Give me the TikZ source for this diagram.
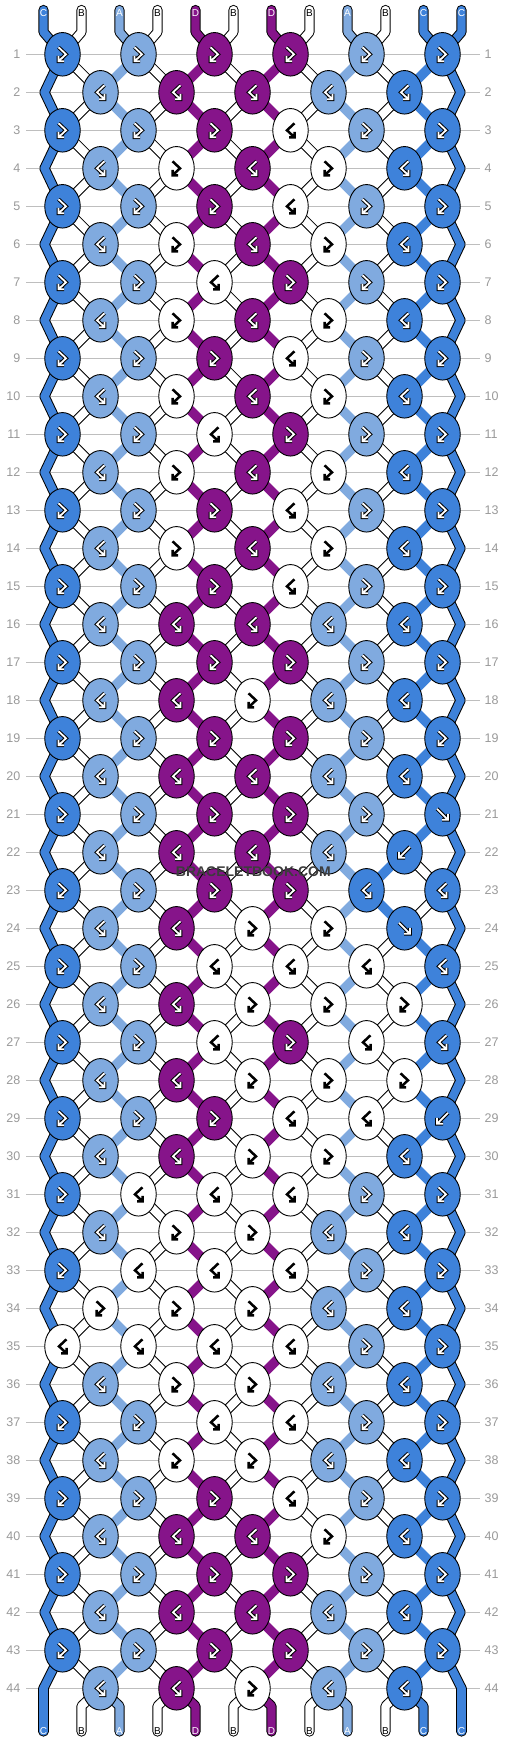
\documentclass[tikz,border=0pt]{standalone}
\usepackage{fontspec}
\setmainfont{Liberation Sans}
\usetikzlibrary{shapes.geometric}
\definecolor{cC}{HTML}{3E82DA}
\definecolor{cA}{HTML}{80AADF}
\definecolor{cD}{HTML}{86148A}
\definecolor{cW}{HTML}{FFFFFF}
\definecolor{lblgray}{HTML}{9A9A9A}
\definecolor{gridgray}{HTML}{BEBEBE}
\definecolor{wmark}{HTML}{3C3C3C}
\def\colW{cW}
\newcommand\getcol[2]{%
  \def\swp{0}%
  \ifnum#1=22 \def\swp{1}\fi
  \ifnum#1=23 \def\swp{1}\fi
  \edef\thecol{\ifcase#2 cC\or cW\or cA\or cW\or cD\or cW\or cD\or cW\or cA\or \ifnum\swp=1 cC\else cW\fi\or \ifnum\swp=1 cW\else cC\fi\or cC\fi}%
}
\begin{document}
\begin{tikzpicture}[x=1pt,y=-1pt,
  knot/.style={ellipse, draw=black, line width=0.9, minimum width=35.5, minimum height=43.5, inner sep=0pt},
  bandout/.style={line width=10.2, draw=black, line cap=round, line join=round},
  bandin/.style={line width=8.2, line cap=round, line join=round},
  bandfull/.style={line width=9.6, line cap=round},
  gridline/.style={draw=gridgray, line width=1},
  rowlbl/.style={text=lblgray, font=\fontsize{12.5}{13}\selectfont, inner sep=0pt},
  strlbl/.style={font=\fontsize{10}{10}\selectfont, inner sep=0pt},
  wmlbl/.style={text=wmark, font=\bfseries\fontsize{14}{14}\selectfont, inner sep=0pt},
  gout/.style={draw=black, line width=3.8},
  gin/.style={draw=white, line width=1.8},
  pics/gF/.style={code={
    \draw[gout] (-4,-7) -- (3.5,0) -- (-4,7) (-4,1.5) -- (-4,7) -- (1.5,7);
    \draw[gin] (-4,-7) -- (3.5,0) -- (-4,7) (-4,1.5) -- (-4,7) -- (1.5,7);}},
  pics/gB/.style={code={
    \draw[gout] (4,-7) -- (-3.5,0) -- (4,7) (4,1.5) -- (4,7) -- (-1.5,7);
    \draw[gin] (4,-7) -- (-3.5,0) -- (4,7) (4,1.5) -- (4,7) -- (-1.5,7);}},
  pics/gf/.style={code={
    \draw[gout] (-5.5,-5.5) -- (5.5,5.5) (5.5,-0.5) -- (5.5,5.5) -- (-0.5,5.5);
    \draw[gin] (-5.5,-5.5) -- (5.5,5.5) (5.5,-0.5) -- (5.5,5.5) -- (-0.5,5.5);}},
  pics/gb/.style={code={
    \draw[gout] (5.5,-5.5) -- (-5.5,5.5) (-5.5,-0.5) -- (-5.5,5.5) -- (0.5,5.5);
    \draw[gin] (5.5,-5.5) -- (-5.5,5.5) (-5.5,-0.5) -- (-5.5,5.5) -- (0.5,5.5);}},
]
\fill[white] (0,0) rectangle (506,1744);
\useasboundingbox (0,0) rectangle (506,1744);

% grid lines and row numbers
\foreach \ro in {1,...,44}{
  \pgfmathsetmacro\yy{54.3+38*(\ro-1)}
  \draw[gridline] (26,\yy) -- (480,\yy);
  \node[rowlbl, anchor=east] (ll-\ro) at (20.5,\yy) {\ro};
  \node[rowlbl, anchor=west] (rl-\ro) at (484.5,\yy) {\ro};
}

% string position coordinates per row
\foreach \ro in {1,...,44}{
  \foreach \ps in {0,...,11}{
    \pgfmathsetmacro\yy{54.3+38*(\ro-1)}
    \pgfmathsetmacro\xx{isodd(\ro) ? 62.5+76*floor(\ps/2) : (\ps==0 ? 44.5 : (\ps==11 ? 460.5 : 100.5+76*floor((\ps-1)/2)))}
    \coordinate (s-\ro-\ps) at (\xx,\yy);
  }
}
\coordinate (s-44-0) at (43.5,1688.3);
\coordinate (s-44-11) at (461.5,1688.3);
\foreach \ps in {0,...,11}{
  \pgfmathsetmacro\xx{43.5+38*\ps}
  \coordinate (te-\ps) at (\xx,10);
  \coordinate (tb-\ps) at (\xx,32);
  \coordinate (bb-\ps) at (\xx,1706);
  \coordinate (be-\ps) at (\xx,1731.5);
}

% pass 1: outlines
\foreach \ps in {0,...,11}{
  \draw[bandout] (te-\ps) -- (tb-\ps) -- (s-1-\ps);
  \ifnum\ps=0 \draw[bandout] (s-44-\ps) -- (be-\ps);
  \else\ifnum\ps=11 \draw[bandout] (s-44-\ps) -- (be-\ps);
  \else \draw[bandout] (s-44-\ps) -- (bb-\ps) -- (be-\ps);\fi\fi
}
\foreach \ro in {1,...,43}{
  \pgfmathtruncatemacro\rn{\ro+1}
  \foreach \ps in {0,...,11}{
    \getcol{\ro}{\ps}%
    \def\doout{0}%
    \ifx\thecol\colW\def\doout{1}\fi
    \ifnum\ps=0 \def\doout{1}\fi
    \ifnum\ps=11 \def\doout{1}\fi
    \ifnum\doout=1 \draw[bandout] (s-\ro-\ps) -- (s-\rn-\ps);\fi
  }
}

% pass 2: fills
\foreach \ps/\cl in {0/cC,1/cW,2/cA,3/cW,4/cD,5/cW,6/cD,7/cW,8/cA,9/cW,10/cC,11/cC}{
  \draw[bandin, draw=\cl] (te-\ps) -- (tb-\ps) -- (s-1-\ps);
  \ifnum\ps=0 \draw[bandin, draw=\cl] (s-44-\ps) -- (be-\ps);
  \else\ifnum\ps=11 \draw[bandin, draw=\cl] (s-44-\ps) -- (be-\ps);
  \else \draw[bandin, draw=\cl] (s-44-\ps) -- (bb-\ps) -- (be-\ps);\fi\fi
}
\foreach \ro in {1,...,43}{
  \pgfmathtruncatemacro\rn{\ro+1}
  \foreach \ps in {0,...,11}{
    \getcol{\ro}{\ps}%
    \def\doout{0}%
    \ifx\thecol\colW\def\doout{1}\fi
    \ifnum\ps=0 \def\doout{1}\fi
    \ifnum\ps=11 \def\doout{1}\fi
    \ifnum\doout=1 \draw[bandin, draw=\thecol] (s-\ro-\ps) -- (s-\rn-\ps);%
    \else \draw[bandfull, draw=\thecol] (s-\ro-\ps) -- (s-\rn-\ps);\fi
  }
}

% knots
\foreach \ro/\lst in {
1/{cC/gF,cA/gF,cD/gF,cD/gF,cA/gF,cC/gF},
2/{cA/gB,cD/gB,cD/gB,cA/gB,cC/gB},
3/{cC/gF,cA/gF,cD/gF,cW/gB,cA/gF,cC/gF},
4/{cA/gB,cW/gF,cD/gB,cW/gF,cC/gB},
5/{cC/gF,cA/gF,cD/gF,cW/gB,cA/gF,cC/gF},
6/{cA/gB,cW/gF,cD/gB,cW/gF,cC/gB},
7/{cC/gF,cA/gF,cW/gB,cD/gF,cA/gF,cC/gF},
8/{cA/gB,cW/gF,cD/gB,cW/gF,cC/gB},
9/{cC/gF,cA/gF,cD/gF,cW/gB,cA/gF,cC/gF},
10/{cA/gB,cW/gF,cD/gB,cW/gF,cC/gB},
11/{cC/gF,cA/gF,cW/gB,cD/gF,cA/gF,cC/gF},
12/{cA/gB,cW/gF,cD/gB,cW/gF,cC/gB},
13/{cC/gF,cA/gF,cD/gF,cW/gB,cA/gF,cC/gF},
14/{cA/gB,cW/gF,cD/gB,cW/gF,cC/gB},
15/{cC/gF,cA/gF,cD/gF,cW/gB,cA/gF,cC/gF},
16/{cA/gB,cD/gB,cD/gB,cA/gB,cC/gB},
17/{cC/gF,cA/gF,cD/gF,cD/gF,cA/gF,cC/gF},
18/{cA/gB,cD/gB,cW/gF,cA/gB,cC/gB},
19/{cC/gF,cA/gF,cD/gF,cD/gF,cA/gF,cC/gF},
20/{cA/gB,cD/gB,cD/gB,cA/gB,cC/gB},
21/{cC/gF,cA/gF,cD/gF,cD/gF,cA/gF,cC/gf},
22/{cA/gB,cD/gB,cD/gB,cA/gB,cC/gb},
23/{cC/gF,cA/gF,cD/gF,cD/gF,cC/gB,cC/gB},
24/{cA/gB,cD/gB,cW/gF,cW/gF,cC/gf},
25/{cC/gF,cA/gF,cW/gB,cW/gB,cW/gB,cC/gB},
26/{cA/gB,cD/gB,cW/gF,cW/gF,cW/gF},
27/{cC/gF,cA/gF,cW/gB,cD/gF,cW/gB,cC/gB},
28/{cA/gB,cD/gB,cW/gF,cW/gF,cW/gF},
29/{cC/gF,cA/gF,cD/gF,cW/gB,cW/gB,cC/gb},
30/{cA/gB,cD/gB,cW/gF,cW/gF,cC/gB},
31/{cC/gF,cW/gB,cW/gB,cW/gB,cA/gF,cC/gF},
32/{cA/gB,cW/gF,cW/gF,cA/gB,cC/gB},
33/{cC/gF,cW/gB,cW/gB,cW/gB,cA/gF,cC/gF},
34/{cW/gF,cW/gF,cW/gF,cA/gB,cC/gB},
35/{cW/gB,cW/gB,cW/gB,cW/gB,cA/gF,cC/gF},
36/{cA/gB,cW/gF,cW/gF,cA/gB,cC/gB},
37/{cC/gF,cA/gF,cW/gB,cW/gB,cA/gF,cC/gF},
38/{cA/gB,cW/gF,cW/gF,cA/gB,cC/gB},
39/{cC/gF,cA/gF,cD/gF,cW/gB,cA/gF,cC/gF},
40/{cA/gB,cD/gB,cD/gB,cW/gF,cC/gB},
41/{cC/gF,cA/gF,cD/gF,cD/gF,cA/gF,cC/gF},
42/{cA/gB,cD/gB,cD/gB,cA/gB,cC/gB},
43/{cC/gF,cA/gF,cD/gF,cD/gF,cA/gF,cC/gF},
44/{cA/gB,cD/gB,cW/gF,cA/gB,cC/gB}}{
  \foreach \col/\typ [count=\kn from 0] in \lst {
    \pgfmathtruncatemacro\kp{isodd(\ro) ? 2*\kn : 2*\kn+1}
    \edef\tmpa{\col}%
    \ifx\tmpa\colW
      \tikzset{gout/.style={draw=black,line width=2.5}, gin/.style={draw=none}}%
    \else
      \tikzset{gout/.style={draw=black,line width=3.8}, gin/.style={draw=white,line width=1.8}}%
    \fi
    \node[knot, fill=\col] (k-\ro-\kn) at (s-\ro-\kp) {};
    \edef\dopic{\noexpand\pic at (k-\ro-\kn) {\typ};}\dopic
  }
}

% string labels
\foreach \ps/\lt/\tc in {0/C/white,1/B/black,2/A/white,3/B/black,4/D/white,5/B/black,6/D/white,7/B/black,8/A/white,9/B/black,10/C/white,11/C/white}{
  \pgfmathsetmacro\xx{43.5+38*\ps}
  \node[strlbl, text=\tc] (tl-\ps) at (\xx,12.7) {\lt};
  \node[strlbl, text=\tc] (bl-\ps) at (\xx,1731.5) {\lt};
}

\node[wmlbl] (wm) at (253.3,871.3) {BRACELETBOOK.COM};
\end{tikzpicture}
\end{document}
